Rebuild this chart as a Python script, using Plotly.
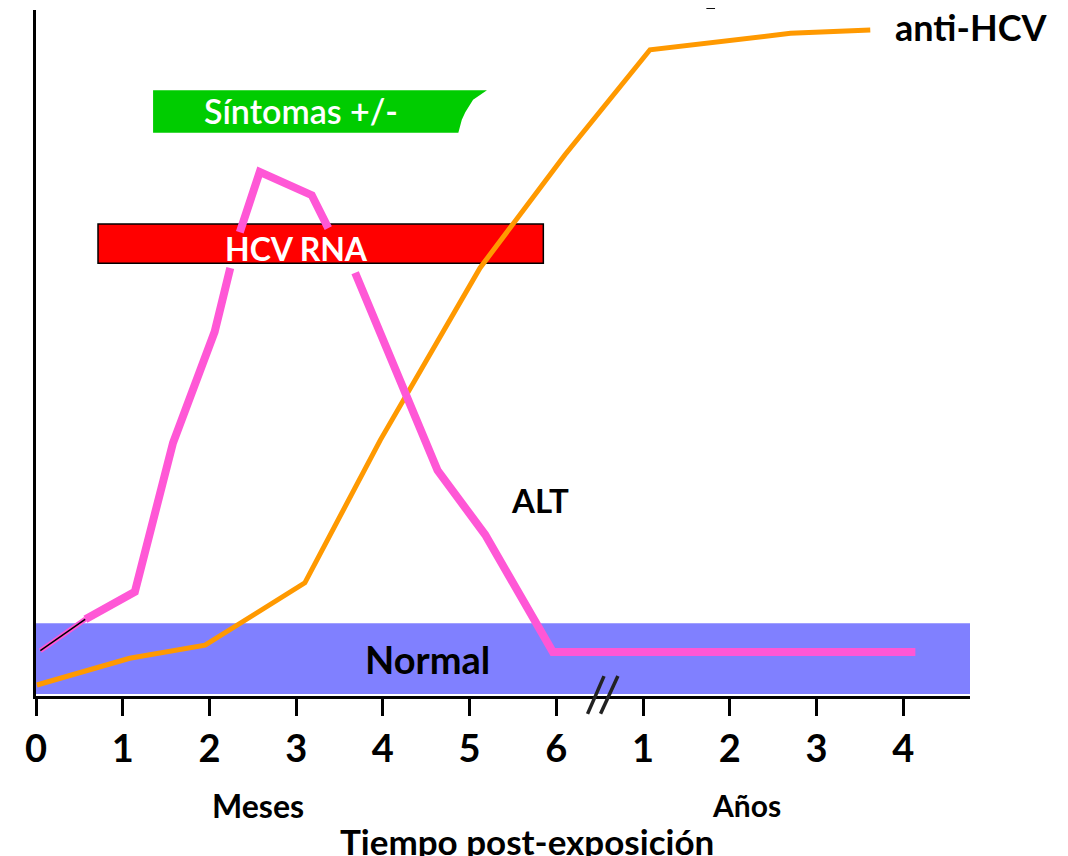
import plotly.graph_objects as go

# ---------------- data ----------------
tick_pos = [0, 1, 2, 3, 4, 5, 6, 7, 8, 9, 10]
tick_text = ["0", "1", "2", "3", "4", "5", "6", "1", "2", "3", "4"]

# ALT (None = hidden behind the HCV RNA bar)
alt_x = [0.57, 1.14, 1.58, 2.06, 2.24, None, 2.35, 2.58, 3.18, 3.37, None, 3.68, 4.63, 5.18, 5.96, 10.14]
alt_y = [11.2, 15.2, 36.9, 53.1, 62.4, None, 67.6, 76.4, 73.0, 68.2, None, 61.7, 32.9, 23.5, 6.4, 6.4]
alt_start_x = [0.05, 0.57]
alt_start_y = [6.6, 11.2]

# anti-HCV
anti_x = [0.01, 1.08, 1.95, 3.10, 3.97, 5.12, 6.10, 7.08, 8.70, 9.62]
anti_y = [1.6, 5.5, 7.4, 16.5, 37.3, 62.4, 78.9, 94.2, 96.6, 97.1]

# bands / periods
normal_x = [0, 10.77]
normal_y = [0.3, 10.6]
rna_x = [0.715, 5.85]
rna_y = [63.1, 68.8]
sym_x = [1.35, 5.20, 5.04, 4.95, 4.91, 4.87, 1.35]
sym_y = [88.3, 88.3, 86.9, 85.1, 84.0, 82.1, 82.1]

FONT = "Lato"

fig = go.Figure()

fig.add_trace(go.Scatter(x=anti_x, y=anti_y, mode="lines",
                         line=dict(color="#FF9900", width=5), hoverinfo="skip"))
fig.add_trace(go.Scatter(x=alt_start_x, y=alt_start_y, mode="lines",
                         line=dict(color="#FF57D6", width=5), hoverinfo="skip"))
fig.add_trace(go.Scatter(x=alt_start_x, y=alt_start_y, mode="lines",
                         line=dict(color="#000000", width=1.5), hoverinfo="skip"))
fig.add_trace(go.Scatter(x=alt_x, y=alt_y, mode="lines", connectgaps=False,
                         line=dict(color="#FF57D6", width=8), hoverinfo="skip"))

# shapes
fig.add_shape(type="rect", x0=normal_x[0], x1=normal_x[1], y0=normal_y[0], y1=normal_y[1],
              fillcolor="#8080FF", line=dict(width=0), layer="below")
fig.add_shape(type="rect", x0=rna_x[0], x1=rna_x[1], y0=rna_y[0], y1=rna_y[1],
              fillcolor="#FF0000", line=dict(color="black", width=1.5), layer="below")
path = "M " + " L ".join(f"{x},{y}" for x, y in zip(sym_x, sym_y)) + " Z"
fig.add_shape(type="path", path=path, fillcolor="#00CC00", line=dict(width=0), layer="below")

# axis break marks
for xa, xb in [(6.36, 6.55), (6.51, 6.71)]:
    fig.add_shape(type="line", xref="x", yref="paper", x0=xa, x1=xb, y0=-0.026, y1=0.029,
                  line=dict(color="#222222", width=3.5), layer="above")
# tiny dash at top
fig.add_shape(type="line", xref="x", yref="paper", x0=7.73, x1=7.83, y0=1.003, y1=1.003,
              line=dict(color="black", width=2))

def ann(text, x, y, size, color="black", yref="y", xanchor="center", weight=700):
    fig.add_annotation(x=x, y=y, xref="x", yref=yref, text=text, showarrow=False,
                       xanchor=xanchor, yanchor="middle",
                       font=dict(family=FONT, size=size, color=color, weight=weight))

ann("Síntomas +/-", 3.06, 85.4, 34, color="white", weight=600)
ann("HCV RNA", 3.0, 65.2, 32, color="white")
ann("anti-HCV", 9.88, 97.5, 36, xanchor="left")
ann("ALT", 5.81, 28.6, 33)
ann("Normal", 4.52, 5.4, 38)
ann("Meses", 2.56, -0.159, 32, yref="paper")
ann("Años", 8.19, -0.159, 30, yref="paper")
ann("Tiempo post-exposición", 5.66, -0.212, 35, yref="paper")

fig.update_layout(
    width=1068, height=856,
    margin=dict(l=28, r=106, t=2, b=168),
    plot_bgcolor="white", paper_bgcolor="white",
    showlegend=False,
    xaxis=dict(range=[0, 10.77], tickvals=tick_pos, ticktext=tick_text,
               showline=True, linecolor="black", linewidth=3,
               ticks="outside", ticklen=17, tickwidth=3, tickcolor="black",
               tickfont=dict(family=FONT, size=38, color="black", weight=700),
               showgrid=False, zeroline=False),
    yaxis=dict(range=[0, 100], showline=True, linecolor="black", linewidth=3,
               showticklabels=False, ticks="", showgrid=False, zeroline=False),
)

fig.write_html("out.html")
